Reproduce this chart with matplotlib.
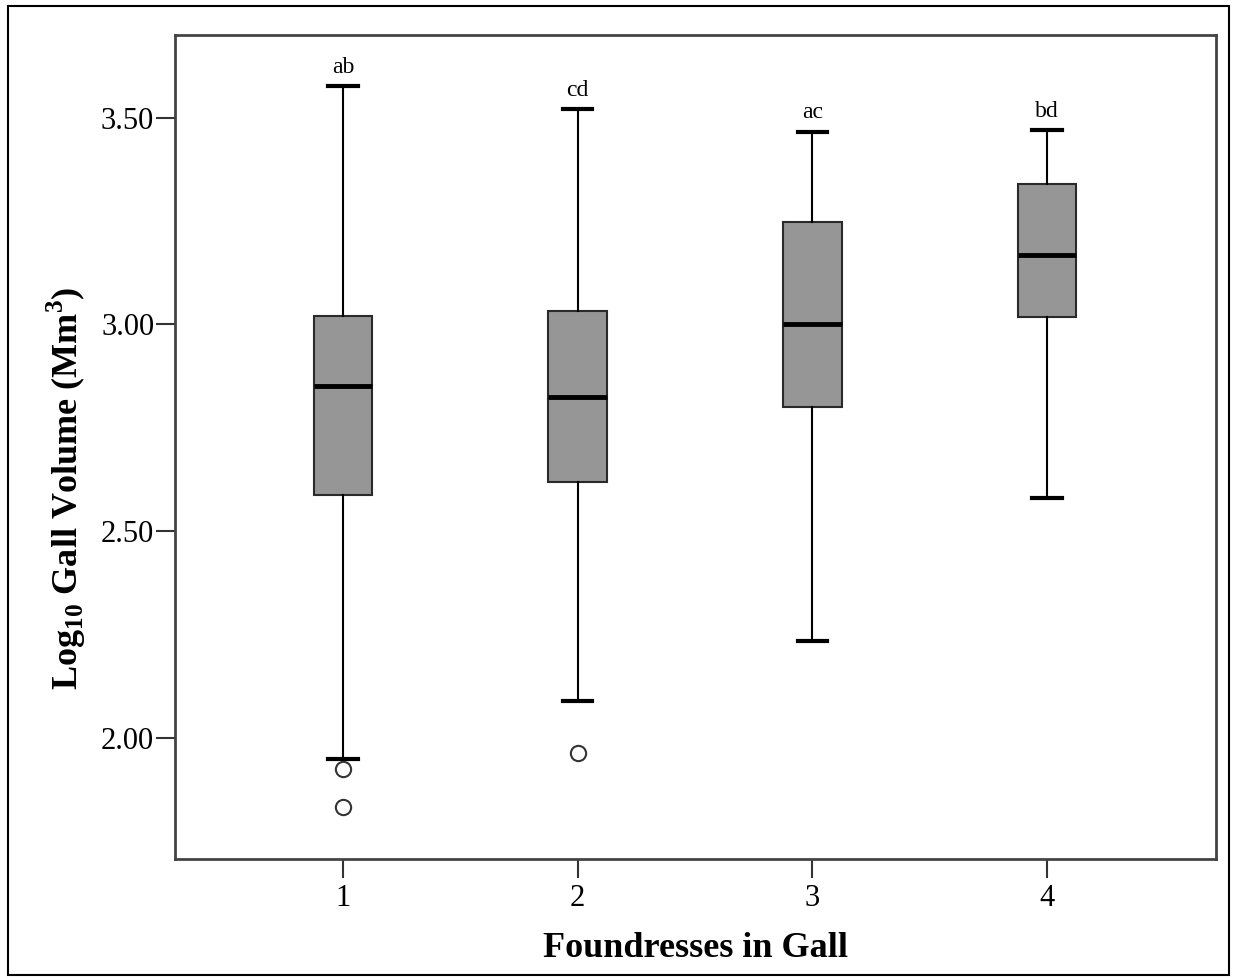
import matplotlib
matplotlib.use("Agg")
import matplotlib.pyplot as plt
from matplotlib.patches import Rectangle

plt.rcParams['font.family'] = ['Liberation Serif', 'DejaVu Serif']
plt.rcParams['mathtext.fontset'] = 'custom'
plt.rcParams['mathtext.rm'] = 'Liberation Serif'
plt.rcParams['mathtext.bf'] = 'Liberation Serif:bold'

# box statistics
groups = [1, 2, 3, 4]
whisker_low = [1.949, 2.090, 2.235, 2.580]
q1 = [2.588, 2.619, 2.800, 3.019]
medians = [2.851, 2.825, 3.001, 3.168]
q3 = [3.021, 3.033, 3.248, 3.339]
whisker_high = [3.577, 3.521, 3.466, 3.470]
outliers = [[1.925, 1.833], [1.964], [], []]
letters = ['ab', 'cd', 'ac', 'bd']

stats = []
for i in range(len(groups)):
    stats.append({'whislo': whisker_low[i], 'q1': q1[i], 'med': medians[i],
                  'q3': q3[i], 'whishi': whisker_high[i], 'fliers': outliers[i]})

fig = plt.figure(figsize=(12.35, 9.8), dpi=100)
ax = fig.add_axes([0.1417, 0.1235, 0.8429, 0.8408])

ax.bxp(stats, positions=groups, widths=0.25, patch_artist=True,
       boxprops=dict(facecolor='#969696', edgecolor='#2a2a2a', linewidth=1.5),
       medianprops=dict(color='black', linewidth=3.5),
       whiskerprops=dict(color='black', linewidth=1.5),
       capprops=dict(color='black', linewidth=3),
       capwidths=0.125,
       flierprops=dict(marker='o', markersize=11, markerfacecolor='white',
                       markeredgecolor='#333333', markeredgewidth=1.5))

for g, top, lab in zip(groups, whisker_high, letters):
    ax.annotate(lab, (g, top), xytext=(0, 6), textcoords='offset points',
                ha='center', va='bottom', fontsize=17)

ax.set_xlim(0.284, 4.72)
ax.set_ylim(1.707, 3.70)
ax.set_xticks(groups)
ax.set_xticklabels([str(g) for g in groups])
ax.set_yticks([2.0, 2.5, 3.0, 3.5])
ax.set_yticklabels(['2.00', '2.50', '3.00', '3.50'])
ax.tick_params(axis='both', labelsize=22, length=14, width=1.5, color='#333333')
ax.tick_params(axis='y', pad=1)
ax.tick_params(axis='x', pad=4)
for s in ax.spines.values():
    s.set_color('#444444')
    s.set_linewidth(2)

ax.set_xlabel('Foundresses in Gall', fontsize=26, fontweight='bold', labelpad=14)
fig.text(0.0535, 0.502, r'Log$_{\mathbf{10}}$ Gall Volume (Mm$^{\mathbf{3}}$)',
         rotation=90, fontsize=26, fontweight='bold', ha='center', va='center')

# frame around the whole figure
fig.patches.append(Rectangle((8 / 1235, 5 / 980), 1221 / 1235, 969 / 980,
                             transform=fig.transFigure, fill=False,
                             edgecolor='black', linewidth=1.5))

fig.savefig('out.png', dpi=100)
